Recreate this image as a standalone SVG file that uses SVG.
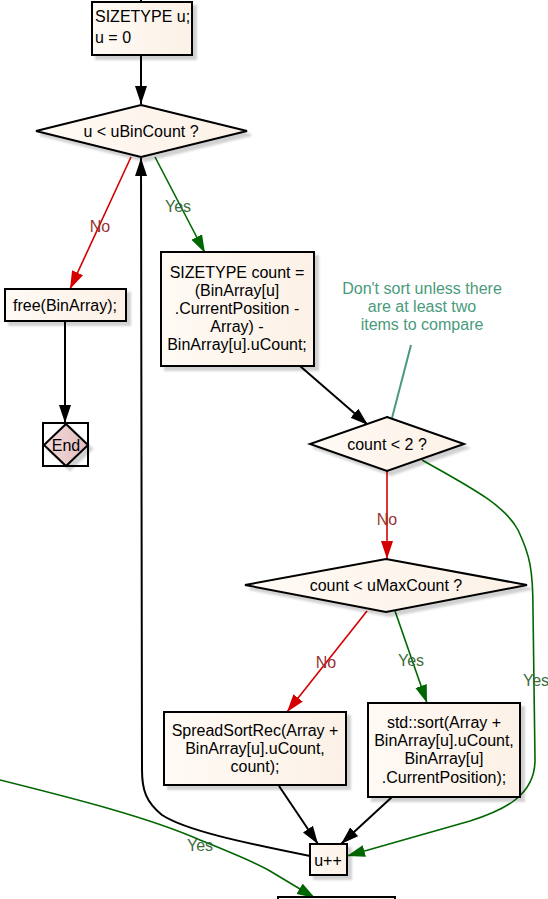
<svg xmlns="http://www.w3.org/2000/svg" width="548" height="899" viewBox="0 0 548 899">
  <defs>
    <linearGradient id="cream" x1="0" y1="0" x2="1" y2="0">
      <stop offset="0" stop-color="#fffaf5"/>
      <stop offset="1" stop-color="#fcf1e6"/>
    </linearGradient>
    <linearGradient id="pink" x1="0" y1="0" x2="1" y2="0">
      <stop offset="0" stop-color="#f3dcdc"/>
      <stop offset="1" stop-color="#e2bcbc"/>
    </linearGradient>
    <filter id="shadow" x="-10%" y="-10%" width="130%" height="140%">
      <feGaussianBlur in="SourceAlpha" stdDeviation="1.2"/>
      <feOffset dx="4" dy="4" result="b"/>
      <feFlood flood-color="#000" flood-opacity="0.18"/>
      <feComposite in2="b" operator="in"/>
      <feMerge><feMergeNode/><feMergeNode in="SourceGraphic"/></feMerge>
    </filter>
    <marker id="ah-black" markerUnits="userSpaceOnUse" markerWidth="20" markerHeight="14" refX="18" refY="6" orient="auto">
      <path d="M0,0 L18,6 L0,12 z" fill="#000"/>
    </marker>
    <marker id="ah-red" markerUnits="userSpaceOnUse" markerWidth="20" markerHeight="14" refX="18" refY="6" orient="auto">
      <path d="M0,0 L18,6 L0,12 z" fill="#d40000"/>
    </marker>
    <marker id="ah-green" markerUnits="userSpaceOnUse" markerWidth="20" markerHeight="14" refX="18" refY="6" orient="auto">
      <path d="M0,0 L18,6 L0,12 z" fill="#006600"/>
    </marker>
  </defs>
  <style>
    .box { fill: url(#cream); stroke: #000; stroke-width: 2; filter: url(#shadow); }
    .t { font-family: "Liberation Sans", Arial, sans-serif; font-size: 16px; fill: #000; }
    .c { text-anchor: middle; }
    .e { fill: none; stroke-width: 2; }
    .blk { stroke: #000; marker-end: url(#ah-black); }
    .red { stroke: #d40000; stroke-width: 1.6; marker-end: url(#ah-red); }
    .grn { stroke: #006600; stroke-width: 1.6; marker-end: url(#ah-green); }
    .lno { font-family: "Liberation Sans", Arial, sans-serif; font-size: 16px; fill: #993333; text-anchor: middle; }
    .lyes { font-family: "Liberation Sans", Arial, sans-serif; font-size: 16px; fill: #3d6b3d; text-anchor: middle; }
    .lyes.start { text-anchor: start; }
    .note { font-family: "Liberation Sans", Arial, sans-serif; font-size: 16px; fill: #4a9a7c; text-anchor: middle; }
  </style>

  <g id="connectors">
    <line class="e" stroke="#000" x1="141" y1="0" x2="141" y2="3"/>
    <path class="e blk" d="M141,55 L141,104"/>
    <path class="e red" d="M131,157 L70,289"/>
    <text class="lno" x="100" y="232">No</text>
    <path class="e grn" d="M155,157 L205,253"/>
    <text class="lyes" x="178" y="212">Yes</text>
    <path class="e blk" d="M65,321 L65,423"/>
    <path class="e blk" d="M300,366 L368,425"/>
    <path class="e" stroke="#4a9a7c" stroke-width="1.6" d="M411,345 L392,418"/>
    <path class="e red" d="M387,471 L387,559"/>
    <text class="lno" x="387" y="525">No</text>
    <path class="e grn" d="M422,460 C470,487 505,505 518,530 C530,555 533,570 533,610 L535,760 C535,795 505,810 470,821 L347,856"/>
    <text class="lyes start" x="523" y="686">Yes</text>
    <path class="e red" d="M367,611 L287,712"/>
    <text class="lno" x="326" y="668">No</text>
    <path class="e grn" d="M395,611 L427,703"/>
    <text class="lyes" x="411" y="666">Yes</text>
    <path class="e blk" d="M279,786 L318,844"/>
    <path class="e blk" d="M392,797 L341,844"/>
    <path class="e blk" d="M310,856 C240,842 185,830 162,815 C146,802 142,790 142,770 L141,158"/>
    <path class="e grn" d="M0,780 C80,800 150,818 200,840 C230,852 255,862 270,871 L315,898"/>
    <text class="lyes" x="200" y="851">Yes</text>
  </g>

  <g id="init">
    <rect class="box" x="92" y="2" width="100" height="53"/>
    <text class="t" x="95" y="22">SIZETYPE u;</text>
    <text class="t" x="95" y="43">u = 0</text>
  </g>

  <g id="loop-test">
    <polygon class="box" points="141,105 247,131 141,157 36,131"/>
    <text class="t c" x="141" y="137">u &lt; uBinCount ?</text>
  </g>

  <g id="free">
    <rect class="box" x="5" y="289" width="121" height="32"/>
    <text class="t c" x="65" y="311">free(BinArray);</text>
  </g>

  <g id="end">
    <rect x="43" y="423" width="45" height="43" fill="#fff" stroke="#000" stroke-width="2"/>
    <polygon points="66,424 88,445 66,466 44,445" fill="url(#pink)" stroke="#000" stroke-width="2" filter="url(#shadow)"/>
    <text class="t c" x="66" y="451">End</text>
  </g>

  <g id="count">
    <rect class="box" x="161" y="252" width="153" height="114"/>
    <text class="t c" x="237" y="278">SIZETYPE count =</text>
    <text class="t c" x="237" y="296">(BinArray[u]</text>
    <text class="t c" x="237" y="314">.CurrentPosition -</text>
    <text class="t c" x="237" y="332">Array) -</text>
    <text class="t c" x="237" y="350">BinArray[u].uCount;</text>
  </g>

  <g id="note">
    <text class="note" x="422" y="294">Don't sort unless there</text>
    <text class="note" x="422" y="312">are at least two</text>
    <text class="note" x="422" y="330">items to compare</text>
  </g>

  <g id="count-test">
    <polygon class="box" points="387,417 464,444 387,471 310,444"/>
    <text class="t c" x="387" y="450">count &lt; 2 ?</text>
  </g>

  <g id="max-test">
    <polygon class="box" points="386,559 527,585 386,612 245,585"/>
    <text class="t c" x="386" y="591">count &lt; uMaxCount ?</text>
  </g>

  <g id="spread-sort">
    <rect class="box" x="164" y="712" width="182" height="73"/>
    <text class="t c" x="255" y="736">SpreadSortRec(Array +</text>
    <text class="t c" x="255" y="754">BinArray[u].uCount,</text>
    <text class="t c" x="255" y="772">count);</text>
  </g>

  <g id="std-sort">
    <rect class="box" x="368" y="703" width="152" height="94"/>
    <text class="t c" x="444" y="728">std::sort(Array +</text>
    <text class="t c" x="444" y="746">BinArray[u].uCount,</text>
    <text class="t c" x="444" y="764">BinArray[u]</text>
    <text class="t c" x="444" y="783">.CurrentPosition);</text>
  </g>

  <g id="increment">
    <rect class="box" x="310" y="844" width="37" height="31"/>
    <text class="t c" x="328" y="866">u++</text>
  </g>

  <g id="next">
    <rect class="box" x="278" y="897" width="117" height="12"/>
  </g>
</svg>
